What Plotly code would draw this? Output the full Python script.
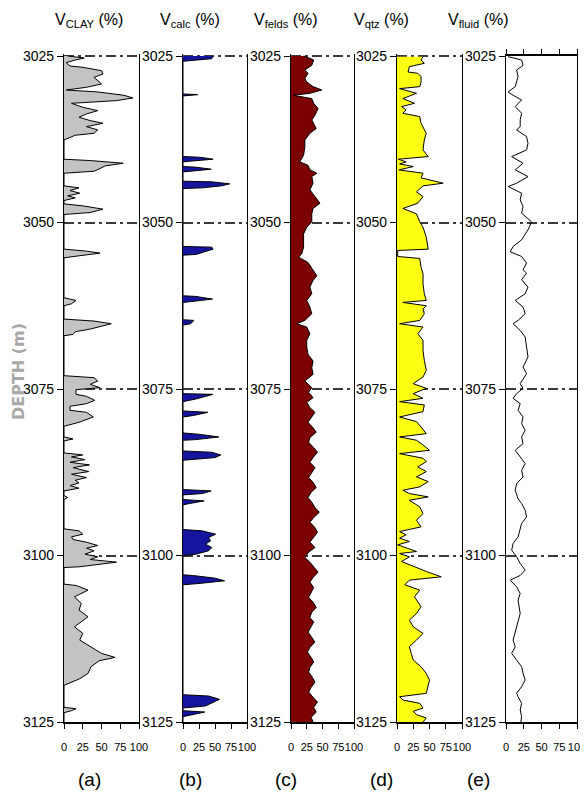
import plotly.graph_objects as go

# ---------------- data ----------------
DEPTH_TICKS = [3025, 3050, 3075, 3100, 3125]
PCT_TICKS = [0, 25, 50, 75, 100]
PCT_TICK_TEXT = ["0", "25", "50", "75", "100"]
PANEL_LABELS = ["(a)", "(b)", "(c)", "(d)", "(e)"]
TITLES = ["V<sub>CLAY</sub> (%)", "V<sub>calc</sub> (%)", "V<sub>felds</sub> (%)",
          "V<sub>qtz</sub> (%)", "V<sub>fluid</sub> (%)"]

CLAY_DEPTH = [3025.0, 3025.3, 3025.6, 3026.0, 3026.5, 3026.7, 3027.2, 3027.7, 3028.2, 3028.7,
              3029.2, 3029.7, 3030.1, 3030.4, 3030.9, 3031.3, 3031.7, 3032.1, 3032.7, 3033.2,
              3033.7, 3034.2, 3034.7, 3035.1, 3035.6, 3036.1, 3036.6, 3036.9, 3037.3, 3037.6,
              3040.5, 3040.7, 3041.1, 3041.5, 3041.9, 3042.3, 3042.6,
              3044.5, 3044.8, 3045.2, 3045.6, 3046.0, 3046.3, 3046.7,
              3047.2, 3047.5, 3048.0, 3048.5, 3048.8,
              3054.0, 3054.3, 3054.6, 3055.0, 3055.3,
              3061.3, 3061.7, 3062.2, 3062.5,
              3064.5, 3064.8, 3065.2, 3065.6, 3066.0, 3066.4, 3066.8, 3067.0,
              3073.0, 3073.3, 3073.8, 3074.3, 3074.8, 3075.1, 3075.8, 3076.1, 3076.7, 3077.2,
              3077.6, 3078.2, 3078.5, 3079.2, 3080.0, 3080.6, 3082.2, 3082.5, 3082.8,
              3084.6, 3084.9, 3085.2, 3085.6, 3086.0, 3086.4, 3086.8, 3087.4, 3087.8, 3088.3,
              3088.7, 3089.1, 3089.5, 3089.9, 3090.3, 3091.0, 3091.3, 3091.6,
              3096.0, 3096.3, 3096.8, 3097.2, 3097.6, 3098.0, 3098.5, 3098.9, 3099.3, 3099.8,
              3100.2, 3100.6, 3101.0, 3101.4, 3101.7, 3101.8,
              3104.3, 3104.5, 3105.2, 3106.2, 3107.2, 3108.2, 3109.2, 3110.7, 3111.7, 3112.7,
              3113.7, 3114.7, 3115.3, 3115.8, 3116.7, 3117.7, 3118.5, 3119.2, 3119.5,
              3122.8, 3123.0, 3123.3, 3123.6, 3125.0]
CLAY_PCT = [5, 27, 15, 3, 8, 25, 50, 52, 40, 45,
            50, 30, 3, 45, 80, 92, 70, 10, 25, 45,
            30, 20, 35, 52, 30, 45, 40, 15, 5, 0,
            0, 35, 79, 55, 48, 40, 0,
            0, 20, 8, 21, 5, 15, 0,
            0, 25, 52, 35, 0,
            0, 30, 48, 20, 0,
            0, 16, 10, 0,
            0, 40, 63, 48, 35, 15, 12, 0,
            0, 40, 45, 35, 48, 16, 16, 30, 41, 30,
            8, 8, 30, 39, 20, 0, 0, 12, 0,
            0, 25, 10, 28, 8, 34, 12, 33, 10, 30,
            15, 20, 8, 20, 0, 0, 5, 0,
            0, 20, 25, 10, 12, 30, 45, 30, 40, 28,
            45, 35, 70, 45, 20, 0,
            0, 16, 32, 14, 23, 20, 32, 14, 25, 21,
            36, 50, 68, 47, 36, 32, 21, 5, 0,
            0, 16, 10, 0, 0]

CALC_DEPTH = [3025.0, 3025.4, 3025.7, 3025.8,
              3030.7, 3030.8, 3031.0,
              3040.1, 3040.2, 3040.5, 3040.8, 3040.9,
              3041.6, 3041.7, 3042.0, 3042.3, 3042.4,
              3043.8, 3043.9, 3044.2, 3044.5, 3044.8, 3044.9,
              3053.6, 3053.7, 3054.0, 3054.4, 3054.8, 3054.9,
              3061.0, 3061.1, 3061.5, 3061.9, 3062.0,
              3064.6, 3064.7, 3065.2, 3065.4,
              3075.7, 3075.8, 3076.5, 3076.9,
              3078.3, 3078.5, 3079.0, 3079.2,
              3081.6, 3081.8, 3082.2, 3082.6, 3082.7,
              3084.3, 3084.5, 3084.9, 3085.3, 3085.6, 3085.7,
              3090.1, 3090.3, 3090.7, 3090.9,
              3091.6, 3091.8, 3092.2, 3092.4,
              3096.1, 3096.3, 3096.8, 3097.3, 3097.8, 3098.3, 3098.8, 3099.3, 3099.8, 3100.0,
              3102.9, 3103.0, 3103.4, 3103.8, 3104.2, 3104.4,
              3120.9, 3121.1, 3121.6, 3122.1, 3122.6, 3122.9,
              3123.3, 3123.5, 3124.0, 3124.2, 3125.0]
CALC_PCT = [47, 45, 10, 0,
            0, 23, 0,
            0, 26, 47, 10, 0,
            0, 21, 44, 10, 0,
            0, 45, 73, 60, 30, 0,
            0, 45, 47, 35, 20, 0,
            0, 20, 46, 10, 0,
            0, 17, 12, 0,
            0, 47, 20, 0,
            0, 39, 15, 0,
            0, 25, 56, 20, 0,
            0, 45, 59, 50, 20, 0,
            0, 44, 30, 0,
            0, 33, 10, 0,
            0, 30, 51, 40, 43, 35, 45, 40, 20, 0,
            0, 15, 50, 65, 25, 0,
            0, 40, 57, 45, 35, 0,
            0, 34, 10, 0, 0]

FELDS_DEPTH = [3025.0, 3025.6, 3026.4, 3027.1, 3027.6, 3028.4, 3028.9, 3029.6, 3030.1, 3030.6,
               3030.9, 3031.4, 3032.1, 3032.9, 3033.9, 3034.6, 3035.9, 3036.6, 3037.6, 3038.6,
               3039.9, 3040.9, 3041.4, 3042.1, 3042.6, 3043.1, 3044.1, 3045.1, 3046.1, 3047.1,
               3047.9, 3048.7, 3049.9, 3050.7, 3051.7, 3052.7, 3053.7, 3054.7, 3055.2, 3056.0,
               3057.2, 3058.0, 3058.7, 3059.7, 3060.7, 3061.7, 3062.7, 3063.7, 3064.7, 3065.2,
               3065.7, 3066.7, 3067.7, 3068.7, 3069.8, 3070.8, 3071.8, 3072.8, 3073.8, 3074.8,
               3075.5, 3076.3, 3077.0, 3077.8, 3078.5, 3079.3, 3080.0, 3080.8, 3081.5, 3082.3,
               3083.0, 3083.8, 3084.5, 3085.3, 3086.0, 3086.8, 3087.5, 3088.3, 3089.0, 3089.8,
               3090.5, 3091.3, 3092.0, 3092.8, 3093.5, 3094.3, 3095.0, 3095.8, 3096.5, 3097.3,
               3098.0, 3098.8, 3099.5, 3100.3, 3101.0, 3101.8, 3102.5, 3103.3, 3104.0, 3104.8,
               3105.5, 3106.3, 3107.0, 3107.8, 3108.5, 3109.3, 3110.0, 3110.8, 3111.5, 3112.3,
               3113.0, 3113.8, 3114.5, 3115.3, 3116.0, 3116.8, 3117.5, 3118.3, 3119.0, 3119.8,
               3120.5, 3121.3, 3122.0, 3122.8, 3123.5, 3124.3, 3125.0]
FELDS_PCT = [20, 36, 33, 22, 27, 22, 25, 35, 49, 30,
             4, 33, 36, 43, 38, 33, 40, 30, 22, 22,
             20, 14, 27, 30, 41, 33, 35, 30, 38, 46,
             35, 33, 33, 25, 20, 20, 20, 17, 12, 27,
             35, 41, 35, 30, 33, 25, 30, 33, 22, 9,
             25, 30, 25, 25, 27, 35, 33, 35, 22, 33,
             28, 35, 25, 30, 38, 32, 27, 35, 40, 30,
             28, 36, 42, 35, 30, 38, 33, 28, 35, 40,
             32, 27, 33, 38, 45, 36, 30, 38, 42, 35,
             30, 38, 28, 22, 30, 37, 43, 35, 30, 36,
             32, 28, 35, 40, 33, 30, 36, 31, 27, 33,
             38, 30, 26, 32, 36, 30, 28, 34, 38, 32,
             28, 35, 42, 36, 40, 32, 35]

QTZ_DEPTH = [3025.1, 3025.6, 3026.1, 3026.6, 3027.4, 3027.6, 3028.1, 3028.9, 3029.6, 3029.9,
             3030.6, 3031.4, 3032.1, 3032.6, 3033.1, 3033.6, 3034.1, 3035.1, 3036.6, 3037.6,
             3039.1, 3040.1, 3040.5, 3040.9, 3041.2, 3041.6, 3042.1, 3042.6, 3043.3, 3044.1,
             3044.5, 3045.4, 3046.1, 3047.1, 3047.9, 3048.7, 3049.9, 3050.7, 3052.2, 3054.0,
             3054.2, 3055.1, 3055.4, 3056.7, 3057.7, 3059.2, 3060.7, 3061.7, 3062.0, 3062.5,
             3063.0, 3063.7, 3064.7, 3065.2, 3065.7, 3066.7, 3067.7, 3069.2, 3070.7, 3072.2,
             3073.2, 3074.2, 3074.9, 3075.7, 3076.4, 3076.9, 3077.4, 3078.4, 3079.2, 3079.9,
             3080.7, 3081.7, 3082.2, 3082.7, 3083.4, 3084.2, 3084.7, 3085.4, 3085.9, 3086.7,
             3087.4, 3088.2, 3088.9, 3089.7, 3090.2, 3090.7, 3091.2, 3091.7, 3092.7, 3093.7,
             3094.7, 3095.7, 3096.4, 3096.9, 3097.4, 3097.9, 3098.4, 3098.9, 3099.4, 3099.7,
             3100.2, 3100.9, 3101.4, 3102.4, 3103.2, 3103.7, 3104.4, 3105.2, 3106.2, 3107.7,
             3108.7, 3109.7, 3110.7, 3111.7, 3112.7, 3113.7, 3114.7, 3115.7, 3116.7, 3117.7,
             3118.7, 3119.7, 3120.7, 3121.2, 3121.7, 3122.2, 3122.9, 3123.4, 3123.9, 3124.4,
             3125.0]
QTZ_PCT = [40, 37, 42, 19, 17, 32, 37, 37, 35, 4,
           30, 9, 27, 7, 14, 9, 35, 37, 45, 42,
           40, 48, 2, 14, 4, 25, 3, 40, 37, 71,
           40, 30, 40, 32, 9, 30, 35, 40, 45, 48,
           1, 1, 35, 37, 40, 40, 42, 45, 9, 45,
           40, 42, 35, 4, 40, 32, 40, 40, 42, 45,
           40, 25, 45, 25, 40, 4, 42, 40, 4, 30,
           37, 45, 4, 30, 40, 50, 4, 40, 45, 32,
           45, 30, 48, 35, 9, 19, 48, 19, 35, 40,
           30, 37, 4, 14, 4, 19, 1, 14, 30, 4,
           19, 7, 19, 45, 68, 19, 12, 35, 27, 37,
           30, 19, 25, 40, 30, 19, 22, 25, 37, 45,
           50, 48, 45, 4, 9, 35, 40, 25, 30, 45,
           40]

FLUID_DEPTH = [3025.1, 3025.6, 3026.4, 3027.1, 3028.1, 3029.6, 3030.4, 3030.9, 3031.6, 3032.6,
               3033.6, 3034.6, 3035.6, 3036.1, 3037.1, 3038.1, 3039.1, 3040.1, 3041.1, 3042.1,
               3043.1, 3044.1, 3044.6, 3045.6, 3046.6, 3047.6, 3048.6, 3049.9, 3051.1, 3052.6,
               3053.6, 3054.4, 3055.1, 3056.1, 3057.1, 3057.6, 3058.6, 3059.7, 3060.7, 3061.7,
               3062.7, 3063.7, 3064.7, 3065.2, 3066.2, 3067.2, 3068.7, 3070.2, 3071.7, 3072.7,
               3074.2, 3074.9, 3075.7, 3076.4, 3077.2, 3078.2, 3079.2, 3080.2, 3081.2, 3082.2,
               3083.2, 3084.2, 3085.2, 3086.2, 3087.2, 3088.2, 3089.2, 3090.2, 3091.5, 3092.2,
               3093.2, 3094.2, 3095.2, 3096.2, 3097.2, 3098.2, 3099.2, 3100.2, 3101.2, 3102.2,
               3103.0, 3103.7, 3104.7, 3105.7, 3106.7, 3108.7, 3110.7, 3111.7, 3112.7, 3113.7,
               3114.7, 3115.7, 3116.7, 3117.7, 3118.7, 3119.7, 3120.7, 3121.2, 3122.2, 3123.2,
               3124.2, 3125.0]
FLUID_PCT = [3, 22, 24, 15, 17, 13, 3, 10, 22, 13,
             22, 20, 20, 15, 29, 31, 29, 8, 24, 13,
             31, 15, 3, 22, 20, 24, 22, 36, 31, 22,
             10, 6, 22, 29, 24, 29, 22, 31, 27, 13,
             24, 27, 17, 10, 20, 27, 29, 31, 24, 29,
             20, 24, 15, 10, 20, 17, 24, 22, 27, 22,
             24, 13, 20, 27, 22, 24, 15, 13, 17, 22,
             27, 29, 22, 20, 17, 10, 8, 15, 20, 27,
             20, 6, 15, 20, 17, 20, 15, 13, 10, 13,
             8, 15, 22, 24, 27, 22, 15, 17, 22, 20,
             22, 21]

# ---------------- styling / layout ----------------
# The page body keeps an 8px margin, so the figure is drawn 8px in from the window edge.
OFF = 8
FW, FH = 588 - OFF, 794 - OFF
TOP, BOT = 56, 722                      # window pixel rows of 3025 m and 3125 m
PANELS_X = [(64, 139), (183, 247), (291, 354), (397, 462), (506, 577)]
LABEL_X = [89, 190, 286, 381, 478]
FILLS = ["#c3c3c3", "#14149e", "#7d0000", "#ffff14", None]
SERIES = [(CLAY_PCT, CLAY_DEPTH), (CALC_PCT, CALC_DEPTH), (FELDS_PCT, FELDS_DEPTH),
          (QTZ_PCT, QTZ_DEPTH), (FLUID_PCT, FLUID_DEPTH)]


def px(x):
    return (x - OFF) / FW


def py(y):
    return 1 - (y - OFF) / FH


FONT = "Liberation Sans, Arial, sans-serif"

fig = go.Figure()
layout = dict(width=FW, height=FH, margin=dict(l=0, r=0, t=0, b=0, autoexpand=False),
              paper_bgcolor="white", plot_bgcolor="white", showlegend=False)

m_per_px = (DEPTH_TICKS[-1] - DEPTH_TICKS[0]) / (BOT - TOP)
for i, ((vals, deps), fillc, (x0, x1)) in enumerate(zip(SERIES, FILLS, PANELS_X)):
    n = "" if i == 0 else str(i + 1)
    last = i == 4
    # top of the track sits a hair above 3025 so the dash-dot line at 3025 stays visible
    pad = 0 if last else 2
    tr = dict(x=vals, y=deps, mode="lines", line=dict(color="black", width=1),
              xaxis="x" + n, yaxis="y" + n, hoverinfo="skip")
    if fillc:
        tr.update(fill="tozerox", fillcolor=fillc)
    fig.add_trace(go.Scatter(**tr))
    layout["xaxis" + n] = dict(
        domain=[px(x0), px(x1)], range=[0, 100], anchor="y" + n, automargin=False,
        tickvals=PCT_TICKS, ticktext=PCT_TICK_TEXT, tickangle=0,
        ticks="outside", ticklen=5, tickwidth=1.2, tickcolor="black",
        ticklabelstandoff=9,
        showline=True, linecolor="black", linewidth=1.5,
        mirror="ticks" if last else False,
        showgrid=False, zeroline=False,
        tickfont=dict(family=FONT, size=11, color="black"))
    layout["yaxis" + n] = dict(
        domain=[py(BOT), py(TOP - pad)],
        range=[DEPTH_TICKS[-1], DEPTH_TICKS[0] - pad * m_per_px], anchor="x" + n,
        automargin=False,
        tickvals=DEPTH_TICKS, ticks="outside", ticklen=6, tickwidth=1.2, tickcolor="black",
        showline=True, mirror=True, linecolor="black", linewidth=1.3,
        showgrid=True, gridcolor="#3a3a3a", gridwidth=1.6, griddash="10px,4px,3px,4px",
        zeroline=False,
        tickfont=dict(family=FONT, size=14, color="black"))

annotations = []
for title, lx in zip(TITLES, LABEL_X):
    annotations.append(dict(text=title, x=px(lx), y=py(20), xref="paper", yref="paper",
                            showarrow=False, xanchor="center", yanchor="middle",
                            font=dict(family=FONT, size=16, color="black")))
for lab, lx in zip(PANEL_LABELS, LABEL_X):
    annotations.append(dict(text=lab, x=px(lx), y=py(779), xref="paper", yref="paper",
                            showarrow=False, xanchor="center", yanchor="middle",
                            font=dict(family=FONT, size=19, color="black")))
annotations.append(dict(text="<b>DEPTH (m)</b>", x=px(18), y=py(372), xref="paper",
                        yref="paper", showarrow=False, textangle=-90,
                        xanchor="center", yanchor="middle",
                        font=dict(family="DejaVu Sans, Arial, sans-serif", size=16,
                                  color="#a8a8a8")))
layout["annotations"] = annotations
fig.update_layout(**layout)
fig.write_html("out.html")
